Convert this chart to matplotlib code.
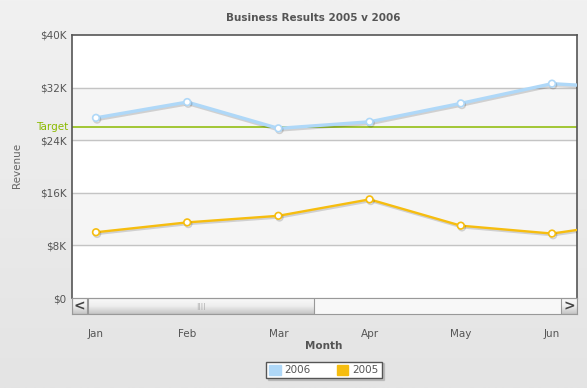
import numpy as np
import matplotlib
matplotlib.use("Agg")
import matplotlib.pyplot as plt
import matplotlib.patheffects as pe
from matplotlib.patches import Rectangle, Patch

months = ["Jan", "Feb", "Mar", "Apr", "May", "Jun", "Jul"]
rev_2006 = [27400, 29800, 25800, 26800, 29600, 32600, 31800]
rev_2005 = [10000, 11500, 12500, 15000, 11000, 9800, 11800]
target = 26000
y_ticks = [0, 8000, 16000, 24000, 32000, 40000]
y_labels = ["$0", "$8K", "$16K", "$24K", "$32K", "$40K"]

W, H = 587, 388
C2006 = "#afd8f8"
C2005 = "#f6bd0f"
TXT = "#555555"


def px(x0, y0, x1, y1):
    # pixel box (top-left origin) -> figure fraction rect
    return [x0 / W, 1 - y1 / H, (x1 - x0) / W, (y1 - y0) / H]


fig = plt.figure(figsize=(W / 100, H / 100), dpi=100)

# background gradient
bg = fig.add_axes([0, 0, 1, 1], zorder=-10)
grad = np.linspace(0, 1, 256).reshape(-1, 1)
bg.imshow(grad, aspect="auto", extent=[0, 1, 0, 1],
          cmap=matplotlib.colors.LinearSegmentedColormap.from_list("g", ["#f1f1f1", "#e4e4e4"]))
bg.axis("off")

ax = fig.add_axes(px(72, 35, 577, 298))
ax.set_facecolor("white")
x = np.arange(len(months))
ax.set_xlim(-0.263, 5.274)
ax.set_ylim(0, 40000)

# alternate bands
for lo in (8000, 24000):
    ax.axhspan(lo, lo + 8000, color="#f5f5f5", zorder=0)
for v in y_ticks[1:-1]:
    ax.axhline(v, color="#c4c4c4", lw=1, zorder=1)
ax.axhline(target, color="#8bba00", lw=1.1, zorder=2)

shadow = [pe.SimpleLineShadow(offset=(0.8, -1.2), shadow_color="#000000", alpha=0.15),
          pe.Normal()]
ax.plot(x, rev_2006, color=C2006, lw=2.4, zorder=3, path_effects=shadow,
        marker="o", ms=4.8, mfc="white", mec=C2006, mew=1.2)
ax.plot(x, rev_2005, color=C2005, lw=1.7, zorder=4, path_effects=shadow,
        marker="o", ms=4.8, mfc="white", mec=C2005, mew=1.2)

ax.set_yticks(y_ticks)
ax.set_yticklabels(y_labels)
ax.set_xticks(x[:6])
ax.set_xticklabels(months[:6])
ax.tick_params(axis="y", length=0, pad=4, labelsize=7.5, labelcolor=TXT)
ax.tick_params(axis="x", length=0, pad=22, labelsize=7.5, labelcolor=TXT)
ax.text(-0.007, target, "Target", transform=ax.get_yaxis_transform(),
        ha="right", va="center", color="#8bba00", fontsize=7.5)

for s in ("left", "top", "right"):
    ax.spines[s].set_color("#555555")
    ax.spines[s].set_linewidth(1.2)
ax.spines["bottom"].set_color("#999999")

# scroll bar
sb = fig.add_axes(px(72, 298, 577, 314))
sb.set_facecolor("#f8f8f8")
sb.set_xticks([])
sb.set_yticks([])
for s in sb.spines.values():
    s.set_color("#999999")
thumb_grad = np.linspace(0, 1, 64).reshape(-1, 1)
tcm = matplotlib.colors.LinearSegmentedColormap.from_list("t", ["#fafafa", "#eeeeee", "#c4c4c4"])
sb.imshow(thumb_grad, aspect="auto", extent=[87, 314, 314, 298], cmap=tcm, zorder=1)
sb.add_patch(Rectangle((87, 298), 227, 16, fill=False, ec="#999999", lw=0.8, zorder=2))
for bx in (72, 561):
    sb.imshow(thumb_grad, aspect="auto", extent=[bx, bx + 16, 314, 298], cmap=tcm, zorder=1)
    sb.add_patch(Rectangle((bx, 298), 16, 16, fill=False, ec="#999999", lw=0.8, zorder=2))
sb.text(79.5, 306, "<", ha="center", va="center", fontsize=10, fontweight="bold", color="#444444")
sb.text(569, 306, ">", ha="center", va="center", fontsize=10, fontweight="bold", color="#444444")
sb.text(200.5, 306.5, "||||", ha="center", va="center", fontsize=5, color="#aaaaaa")
sb.set_xlim(72, 577)
sb.set_ylim(314, 298)

fig.text(313 / W, 1 - 18 / H, "Business Results 2005 v 2006", ha="center", va="center",
         fontsize=7.5, fontweight="bold", color=TXT)
fig.text(324 / W, 1 - 346 / H, "Month", ha="center", va="center",
         fontsize=7.5, fontweight="bold", color=TXT)
fig.text(17 / W, 1 - 165 / H, "Revenue", ha="center", va="center", rotation=90,
         fontsize=7.5, color="#666666")

handles = [Patch(color=C2006, label="2006"), Patch(color=C2005, label="2005")]
leg = fig.legend(handles=handles, loc="center", bbox_to_anchor=(324 / W, 1 - 370 / H),
                 ncol=2, fontsize=7.5, frameon=True, fancybox=False,
                 shadow={"ox": 1.2, "oy": -1.2, "alpha": 0.2},
                 handlelength=1.1, handleheight=1.1, handletextpad=0.4, columnspacing=2.5,
                 borderpad=0.3)
leg.get_frame().set_edgecolor("#555555")
leg.get_frame().set_linewidth(1.0)
for t in leg.get_texts():
    t.set_color(TXT)

fig.savefig("out.png", dpi=100)
